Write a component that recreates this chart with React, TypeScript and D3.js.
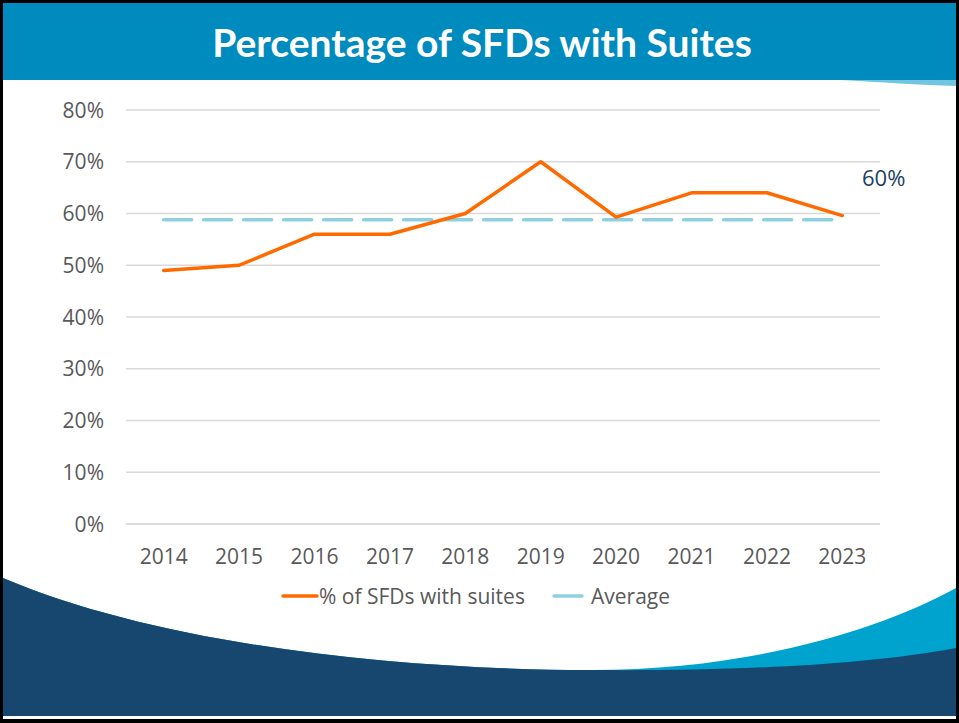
import React, { useEffect } from "react";
import * as d3 from "d3";

const years = ["2014", "2015", "2016", "2017", "2018", "2019", "2020", "2021", "2022", "2023"];
const pctWithSuites = [49, 50, 56, 56, 60, 70, 59.3, 64, 64, 59.6];
const averageValue = 58.8;
const yTicks = [0, 10, 20, 30, 40, 50, 60, 70, 80];
const titleText = "Percentage of SFDs with Suites";
const endLabel = "60%";
const legendLabels = ["% of SFDs with suites", "Average"];

const W = 959;
const H = 723;
const plot = { left: 126, right: 880, top: 110, bottom: 524 };

export default function App() {
  useEffect(() => {
    document.body.style.margin = "0";
  }, []);

  const x = d3.scaleBand<string>().domain(years).range([plot.left, plot.right]);
  const cx = (d: string) => (x(d) as number) + x.bandwidth() / 2;
  const y = d3.scaleLinear().domain([0, 80]).range([plot.bottom, plot.top]);

  const line = d3
    .line<number>()
    .x((_, i) => cx(years[i]))
    .y((d) => y(d));

  const avgPath = line(years.map(() => averageValue)) as string;
  const mainPath = line(pctWithSuites) as string;

  const font = "'Open Sans', sans-serif";
  const tickColor = "#595959";

  return (
    <svg width={W} height={H} style={{ display: "block" }}>
      <rect x={0} y={0} width={W} height={H} fill="#000" />
      <rect x={3} y={3} width={W - 6} height={H - 7} fill="#fff" />
      {/* title bar */}
      <rect x={3} y={3} width={W - 6} height={77} fill="#008BBF" />
      <path d="M840,80 L956,80 L956,86 C920,85 880,82 840,80 Z" fill="#4FB6D6" opacity={0.8} />
      <text
        x={482}
        y={57}
        textAnchor="middle"
        fill="#fff"
        fontFamily="Lato, 'Open Sans', sans-serif"
        fontWeight="bold"
        fontSize={39}
      >
        {titleText}
      </text>

      {/* bottom decoration */}
      <path
        d="M3,578 C160,645 400,670 590,670 C750,670 880,630 956,588 L956,716 L3,716 Z"
        fill="#00A2CE"
      />
      <path
        d="M3,578 C160,645 400,670 590,670 C700,671 850,668 956,648 L956,716 L3,716 Z"
        fill="#17476F"
      />

      {/* grid */}
      {yTicks.map((t) => (
        <g key={t}>
          <line
            x1={plot.left}
            x2={plot.right}
            y1={y(t)}
            y2={y(t)}
            stroke={t === 0 ? "#D0D0D0" : "#D9D9D9"}
            strokeWidth={1.3}
          />
          <text
            x={104}
            y={y(t) + 7.5}
            textAnchor="end"
            fill={tickColor}
            fontFamily={font}
            fontSize={21}
          >
            {t}%
          </text>
        </g>
      ))}

      {years.map((yr) => (
        <text
          key={yr}
          x={cx(yr)}
          y={564}
          textAnchor="middle"
          fill={tickColor}
          fontFamily={font}
          fontSize={21}
        >
          {yr}
        </text>
      ))}

      <path
        d={avgPath}
        fill="none"
        stroke="#8ED0E0"
        strokeWidth={3.5}
        strokeDasharray="28,12"
        strokeLinecap="round"
      />
      <path d={mainPath} fill="none" stroke="#FF6A00" strokeWidth={3.5} strokeLinejoin="round" strokeLinecap="round" />

      <text x={862} y={186} fill="#1B3F5E" fontFamily={font} fontSize={22}>
        {endLabel}
      </text>

      {/* legend */}
      <line x1={283} x2={317} y1={596} y2={596} stroke="#FF6A00" strokeWidth={3.5} strokeLinecap="round" />
      <text x={319} y={603.5} fill={tickColor} fontFamily={font} fontSize={21}>
        {legendLabels[0]}
      </text>
      <line x1={554} x2={582} y1={596} y2={596} stroke="#8ED0E0" strokeWidth={3.5} strokeLinecap="round" />
      <text x={591} y={603.5} fill={tickColor} fontFamily={font} fontSize={21}>
        {legendLabels[1]}
      </text>
    </svg>
  );
}
